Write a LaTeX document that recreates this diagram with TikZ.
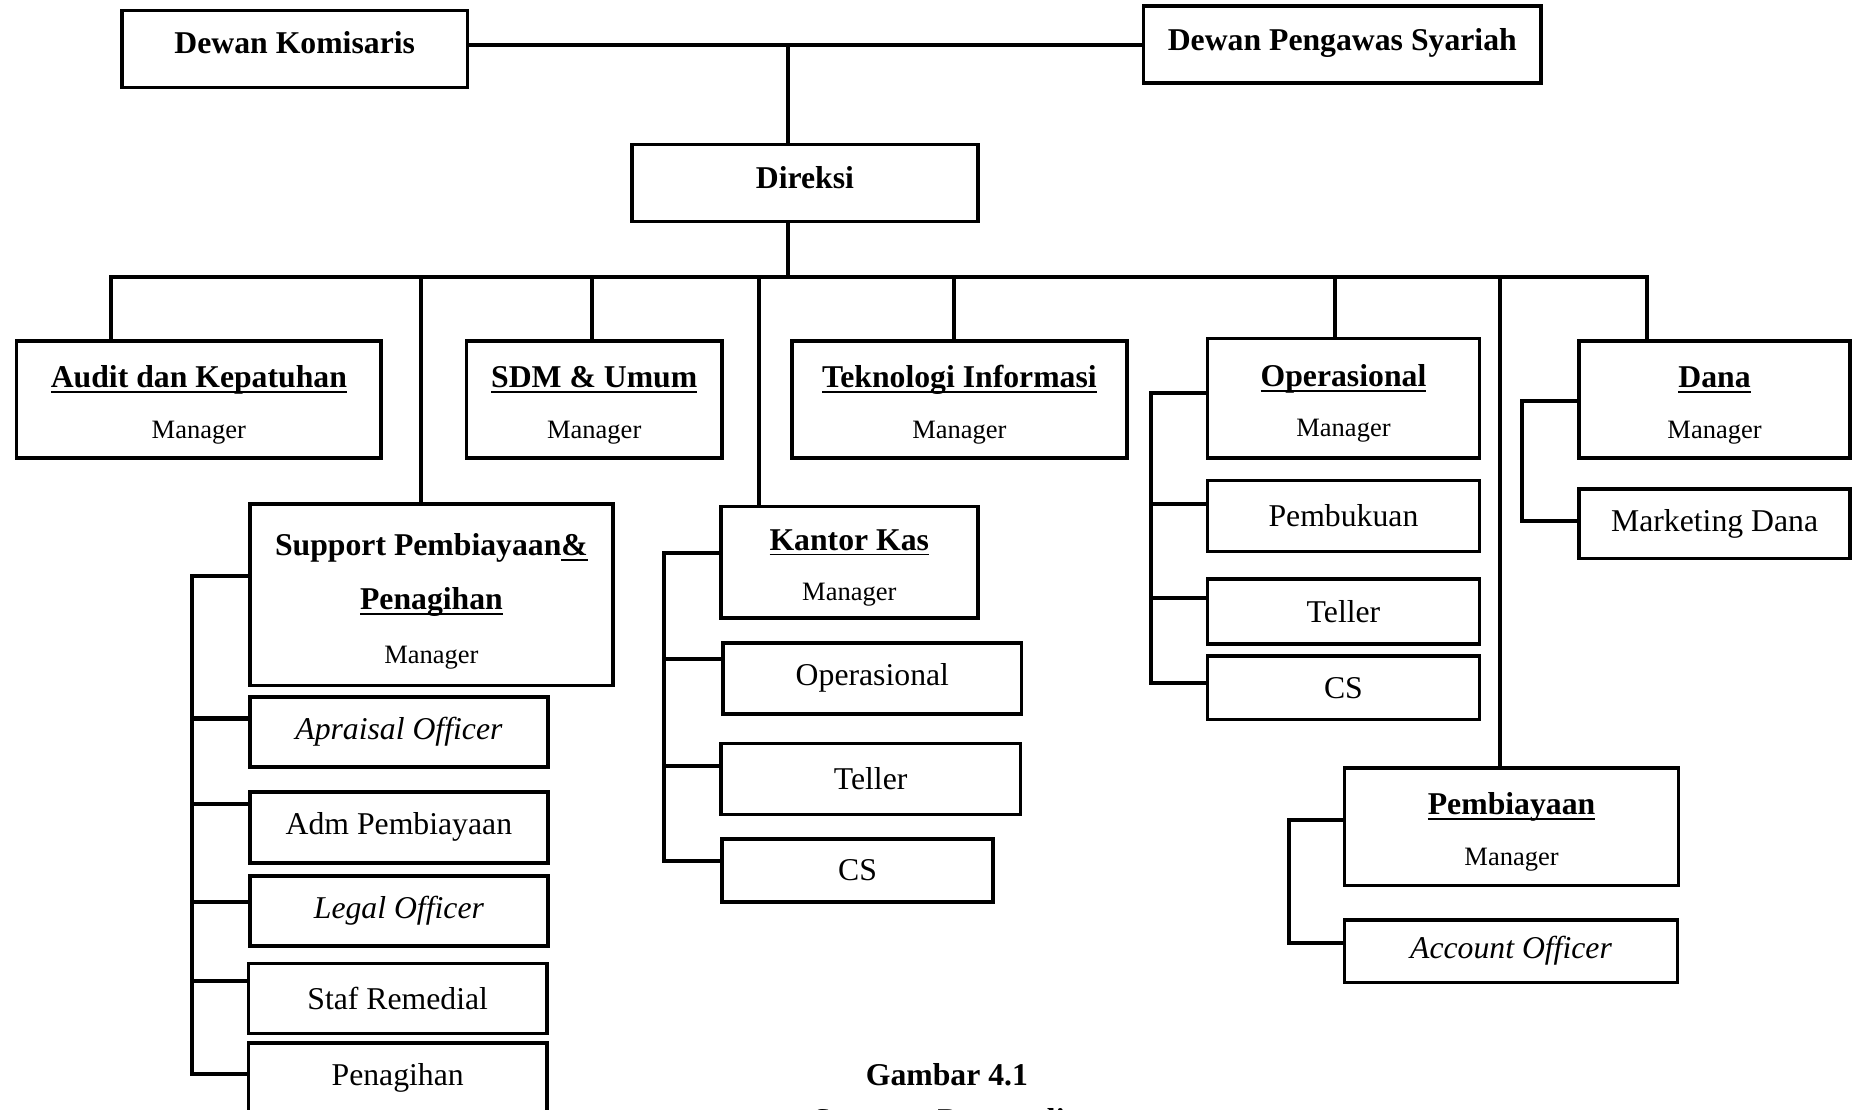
\documentclass[tikz,border=0pt]{standalone}
\usepackage{fontspec}
\setmainfont{Liberation Serif}
\newcommand{\ulin}[1]{\setbox0\hbox{#1}\rlap{\rule[-2.3pt]{\wd0}{0.8pt}}\box0}
\newcommand{\tstrut}{\rule{0pt}{13.6pt}}
\newcommand{\lowr}[1]{\raisebox{-1.2pt}{#1}}
\begin{document}
\begin{tikzpicture}[x=0.5pt,y=-0.5pt,
  box/.style={draw, line width=1.5pt, inner sep=0pt, align=center, font=\fontsize{13.4}{21.5}\selectfont},
  mgr/.style={box, font=\fontsize{13.4}{21.5}\selectfont},
  conn/.style={line width=1.7pt, line cap=rect, line join=miter}]
\useasboundingbox (0,0) rectangle (1568,937);
\clip (0,0) rectangle (1568,937);
\newcommand{\mg}{{\fontsize{11.2}{13}\selectfont Manager}}
% top
\node[box, minimum width=146pt, minimum height=32.5pt] (dk) at (249,41.5) {\raisebox{5.5pt}{\bfseries Dewan Komisaris}};
\node[box, minimum width=168pt, minimum height=32.5pt] (dps) at (1134,37.5) {\raisebox{4.5pt}{\bfseries Dewan Pengawas Syariah}};
\node[box, minimum width=146pt, minimum height=32.5pt] (dir) at (680,154.5) {\raisebox{4.5pt}{\bfseries Direksi}};
% row 1
\node[mgr, minimum width=154pt, minimum height=49.5pt] (audit) at (168,337.5) {\tstrut\textbf{\ulin{Audit dan Kepatuhan}}\\\mg};
\node[mgr, minimum width=108pt, minimum height=49.5pt] (sdm) at (502,337.5) {\tstrut\textbf{\ulin{SDM \& Umum}}\\\mg};
\node[mgr, minimum width=141.5pt, minimum height=49.5pt] (ti) at (810.5,337.5) {\tstrut\textbf{\ulin{Teknologi Informasi}}\\\mg};
\node[mgr, minimum width=115pt, minimum height=50.5pt] (op) at (1135,336.5) {\tstrut\textbf{\ulin{Operasional}}\\\mg};
\node[mgr, minimum width=114.5pt, minimum height=49.5pt] (dana) at (1448.5,337.5) {\tstrut\textbf{\ulin{Dana}}\\\mg};
% support group
\node[box, minimum width=153.5pt, minimum height=76.5pt, font=\fontsize{13.4}{22.8}\selectfont] (sp) at (364.5,502.5) {\rule{0pt}{14.5pt}\textbf{Support Pembiayaan\ulin{\&}}\\\textbf{\ulin{Penagihan}}\\\mg};
\node[box, minimum width=126pt, minimum height=29.5pt] (apr) at (337,618.5) {\lowr{\itshape Apraisal Officer}};
\node[box, minimum width=126pt, minimum height=30pt] (adm) at (337,699) {\lowr{Adm Pembiayaan}};
\node[box, minimum width=126pt, minimum height=29.5pt] (legal) at (337,769.5) {\lowr{\itshape Legal Officer}};
\node[box, minimum width=126pt, minimum height=29.5pt] (staf) at (336,843.5) {\lowr{Staf Remedial}};
\node[box, minimum width=126pt, minimum height=30pt] (pen) at (336,911) {\lowr{Penagihan}};
% kantor kas group
\node[mgr, minimum width=108.5pt, minimum height=47pt] (kk) at (717.5,475) {\tstrut\textbf{\ulin{Kantor Kas}}\\\mg};
\node[box, minimum width=126pt, minimum height=30pt] (kop) at (737,573) {\raisebox{-2.5pt}{Operasional}};
\node[box, minimum width=126.5pt, minimum height=30pt] (kteller) at (735.5,658) {\lowr{Teller}};
\node[box, minimum width=114.5pt, minimum height=26.5pt] (kcs) at (724.5,735.5) {CS};
% operasional group
\node[box, minimum width=115pt, minimum height=30pt] (pbk) at (1135,436) {\lowr{Pembukuan}};
\node[box, minimum width=115pt, minimum height=27.5pt] (oteller) at (1135,516.5) {\lowr{Teller}};
\node[box, minimum width=115pt, minimum height=27pt] (ocs) at (1135,581) {CS};
% dana group
\node[box, minimum width=114.5pt, minimum height=29.5pt] (mkt) at (1448.5,442.5) {\lowr{Marketing Dana}};
% pembiayaan group
\node[mgr, minimum width=141pt, minimum height=49.5pt] (pby) at (1277,698.5) {\tstrut\textbf{\ulin{Pembiayaan}}\\\mg};
\node[box, minimum width=140.5pt, minimum height=26.5pt] (ao) at (1276.5,803.5) {\lowr{\itshape Account Officer}};
% caption
\node[font=\fontsize{13.4}{16}\selectfont\bfseries] (cap1) at (800,908) {Gambar 4.1};
\node[font=\fontsize{13.4}{16}\selectfont\bfseries] (cap2) at (800,946) {Susunan Personalia};
% connectors top
\coordinate (j1) at (666,38);
\draw[conn] (dk.east|-j1) -- (dps.west|-j1);
\draw[conn] (j1) -- (j1|-dir.north);
\coordinate (busL) at (94,234);
\coordinate (busR) at (1391,234);
\draw[conn] (j1|-dir.south) -- (j1|-busL);
\draw[conn] (busL) -- (busR);
\coordinate (bSp) at (356,234);
\coordinate (bSdm) at (500,234);
\coordinate (bKk) at (641,234);
\coordinate (bTi) at (806,234);
\coordinate (bOp) at (1128,234);
\coordinate (bPby) at (1267,234);
\draw[conn] (busL) -- (busL|-audit.north);
\draw[conn] (bSp) -- (bSp|-sp.north);
\draw[conn] (bSdm) -- (bSdm|-sdm.north);
\draw[conn] (bKk) -- (bKk|-kk.north);
\draw[conn] (bTi) -- (bTi|-ti.north);
\draw[conn] (bOp) -- (bOp|-op.north);
\draw[conn] (bPby) -- (bPby|-pby.north);
\draw[conn] (busR) -- (busR|-dana.north);
% support bracket
\coordinate (s1) at (162,487);
\coordinate (s2) at (162,607);
\coordinate (s3) at (162,679);
\coordinate (s4) at (162,762);
\coordinate (s5) at (162,829);
\coordinate (s6) at (162,907);
\draw[conn] (s1-|sp.west) -- (s1) -- (s6) -- (s6-|pen.west);
\draw[conn] (s2) -- (s2-|apr.west);
\draw[conn] (s3) -- (s3-|adm.west);
\draw[conn] (s4) -- (s4-|legal.west);
\draw[conn] (s5) -- (s5-|staf.west);
% kantor kas bracket
\coordinate (k1) at (561,467);
\coordinate (k2) at (561,557);
\coordinate (k3) at (561,647);
\coordinate (k4) at (561,727);
\draw[conn] (k1-|kk.west) -- (k1) -- (k4) -- (k4-|kcs.west);
\draw[conn] (k2) -- (k2-|kop.west);
\draw[conn] (k3) -- (k3-|kteller.west);
% operasional bracket
\coordinate (o1) at (972,332);
\coordinate (o2) at (972,426);
\coordinate (o3) at (972,505);
\coordinate (o4) at (972,577);
\draw[conn] (o1-|op.west) -- (o1) -- (o4) -- (o4-|ocs.west);
\draw[conn] (o2) -- (o2-|pbk.west);
\draw[conn] (o3) -- (o3-|oteller.west);
% dana bracket
\coordinate (d1) at (1286,339);
\coordinate (d2) at (1286,440);
\draw[conn] (d1-|dana.west) -- (d1) -- (d2) -- (d2-|mkt.west);
% pembiayaan bracket
\coordinate (p1) at (1089,693);
\coordinate (p2) at (1089,797);
\draw[conn] (p1-|pby.west) -- (p1) -- (p2) -- (p2-|ao.west);
\end{tikzpicture}
\end{document}
